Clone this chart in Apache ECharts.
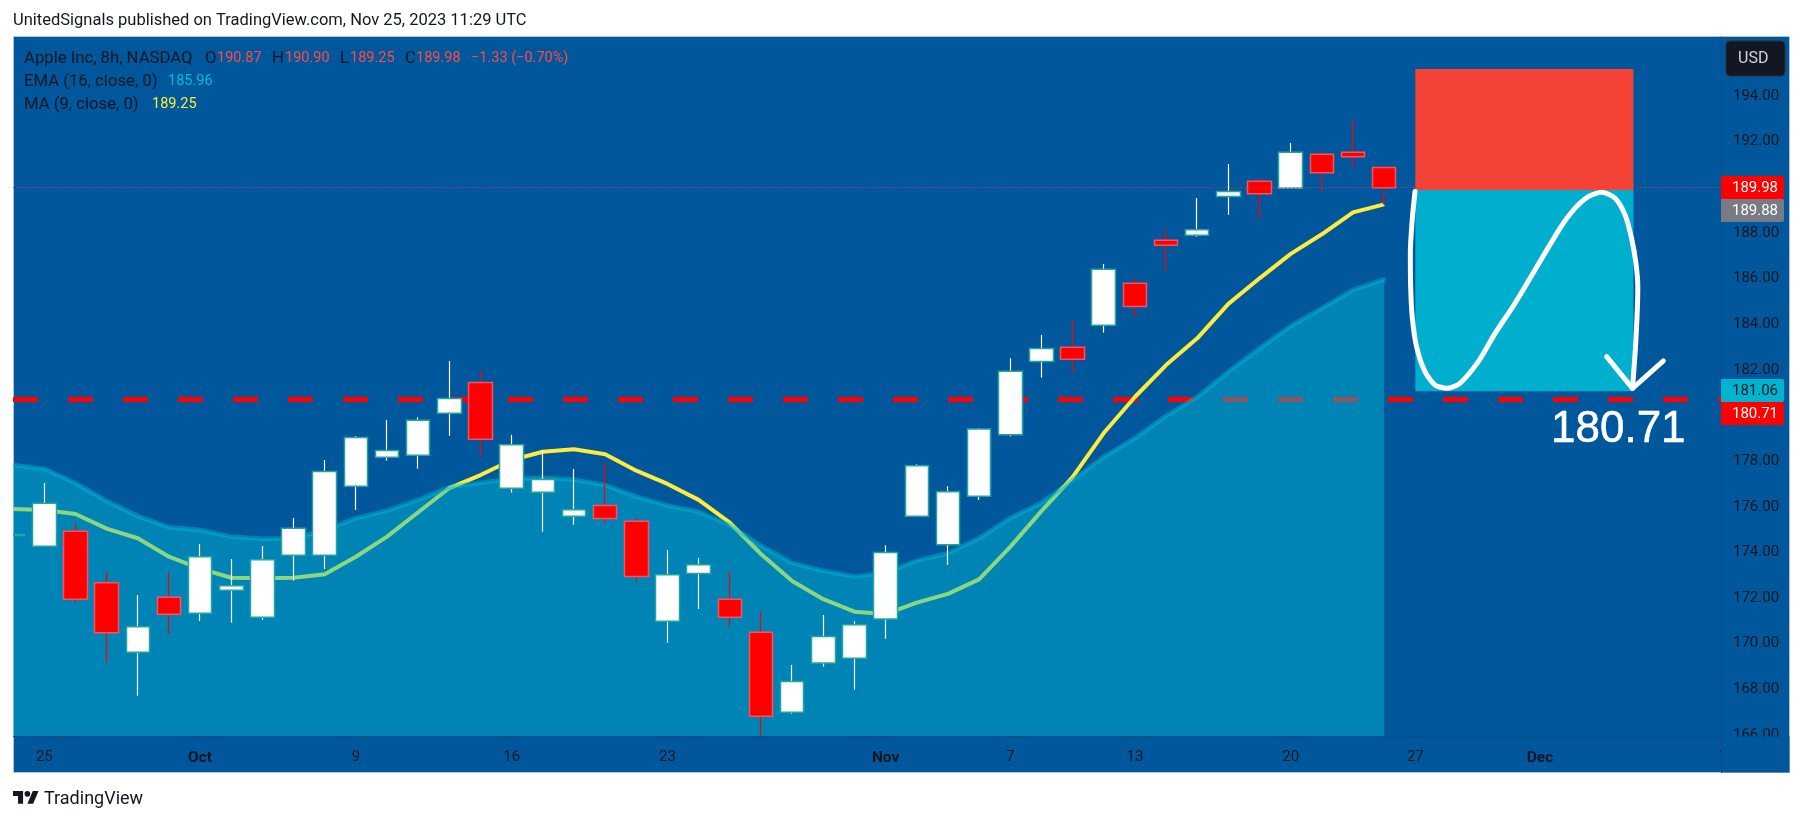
<!DOCTYPE html>
<html>
<head>
<meta charset="utf-8" />
<title>AAPL 8h</title>
<style>
  html, body { margin: 0; padding: 0; background: #fff; }
  #chart { width: 1804px; height: 821px; }
</style>
<script src="https://cdn.jsdelivr.net/npm/echarts@6/dist/echarts.min.js"></script>
</head>
<body>
<div id="chart"></div>
<script>
// bar number 0 is the cut-off bar at the left edge, one bar before "25"
const opens = [174.74, 174.27, 174.93, 172.67, 169.62, 172.03, 171.33, 172.34, 171.16, 173.87, 173.87, 176.90, 178.17, 178.26, 180.10, 181.45, 176.81, 176.63, 175.58, 176.06, 175.36, 170.98, 173.08, 171.95, 170.50, 166.99, 169.15, 169.36, 171.08, 175.58, 174.33, 176.46, 179.15, 182.36, 182.99, 183.95, 185.79, 187.68, 187.90, 189.60, 190.26, 189.96, 191.45, 191.53, 190.87];
const closes = [174.78, 176.15, 171.95, 170.48, 170.74, 171.29, 173.81, 172.54, 173.68, 175.06, 177.55, 179.04, 178.47, 179.79, 180.74, 178.96, 178.72, 177.19, 175.87, 175.48, 172.94, 173.02, 173.46, 171.16, 166.82, 168.34, 170.31, 170.83, 173.99, 177.80, 176.66, 179.41, 181.94, 182.94, 182.46, 186.41, 184.78, 187.46, 188.14, 189.82, 189.72, 191.53, 190.64, 191.34, 189.98];
const lows = [174.74, 174.27, 171.77, 169.17, 167.72, 170.44, 170.99, 170.92, 171.04, 172.76, 173.27, 175.86, 178.02, 177.67, 179.11, 178.24, 176.62, 174.91, 175.21, 175.26, 172.72, 170.04, 171.52, 170.74, 165.96, 166.93, 168.99, 167.98, 170.21, 175.58, 173.45, 176.30, 179.08, 181.66, 181.86, 183.63, 184.30, 186.33, 187.83, 188.79, 188.62, 189.96, 189.81, 190.86, 189.25];
const highs = [174.78, 177.04, 175.28, 173.14, 172.13, 173.14, 174.37, 173.71, 174.28, 175.51, 178.05, 179.10, 179.80, 179.92, 182.39, 181.99, 179.15, 178.49, 177.66, 177.90, 175.51, 174.11, 173.76, 173.14, 171.42, 169.07, 171.26, 170.98, 174.31, 177.86, 176.90, 179.45, 182.51, 183.53, 184.18, 186.64, 186.06, 188.16, 189.53, 191.02, 190.41, 191.94, 191.56, 192.95, 190.90];
const ma9 = [175.90, 175.86, 175.68, 175.04, 174.62, 173.81, 173.29, 172.89, 172.87, 172.89, 173.04, 173.81, 174.69, 175.76, 176.82, 177.39, 178.05, 178.41, 178.52, 178.30, 177.58, 177.00, 176.30, 175.30, 173.93, 172.75, 171.95, 171.40, 171.30, 171.80, 172.18, 172.82, 174.24, 175.81, 177.30, 179.23, 180.81, 182.21, 183.38, 184.89, 186.01, 187.08, 187.94, 188.90, 189.25];
const ema16 = [177.83, 177.66, 177.04, 176.25, 175.60, 175.10, 174.98, 174.69, 174.60, 174.62, 174.98, 175.50, 175.83, 176.30, 176.87, 177.05, 177.22, 177.27, 177.19, 176.95, 176.44, 176.05, 175.78, 175.20, 174.29, 173.54, 173.19, 172.94, 173.10, 173.64, 173.96, 174.62, 175.51, 176.17, 177.17, 178.18, 179.01, 179.98, 180.81, 181.92, 182.94, 183.92, 184.70, 185.50, 185.96];

// time axis labels and the bar each one sits on
const timeLabels = ["25", "Oct", "9", "16", "23", "Nov", "7", "13", "20", "27", "Dec"];
const timeLabelBars = [1, 6, 11, 16, 21, 28, 32, 36, 41, 45, 49];
const monthLabels = ["Oct", "Nov", "Dec"];
const priceTicks = [166, 168, 170, 172, 174, 176, 178, 180, 182, 184, 186, 188, 190, 192, 194];

// short position drawing
const lastPrice = 189.98;
const entryPrice = 189.88;
const stopPrice = 195.18;
const targetPrice = 181.06;
const drawnLevel = 180.71;
const positionBars = [45, 52];

// hand drawn stroke and arrow head, [bar, price]
const brushStroke = [[44.99, 189.81], [44.90, 188.57], [44.84, 187.11], [44.85, 185.64], [44.90, 184.33], [45.04, 183.01], [45.31, 181.92], [45.63, 181.34], [46.01, 181.19], [46.43, 181.41], [47.02, 182.36], [47.56, 183.60], [48.20, 184.92], [49.64, 188.20], [50.07, 189.00], [50.55, 189.59], [50.98, 189.78], [51.41, 189.52], [51.73, 188.79], [51.94, 187.76], [52.08, 186.67], [52.14, 185.64], [52.12, 184.48], [52.06, 182.87], [51.97, 181.19]];
const arrowHead = [[51.14, 182.58], [51.97, 181.19], [52.96, 182.39]];

const DARK = "#131722";
const BG = "#01579B";
const FONT = "Roboto";

const bars = opens.map((o, i) => [i, o, closes[i], lows[i], highs[i]]);
const bodies = opens.map((o, i) => [i, o, closes[i], Math.min(o, closes[i]), Math.max(o, closes[i])]);
const withBar = (values) => values.map((v, i) => [i, v]);

const text = (str, x, y, color, extra) => ({
  type: "text",
  x,
  y,
  z: 60,
  style: Object.assign({ text: str, fill: color, font: `16.7px ${FONT}`, textVerticalAlign: "middle" }, extra),
});
const num = (str, x, y, color) => text(str, x, y, color, { font: `14.5px ${FONT}` });

// price tag on the right scale
const tag = (str, top, fill, color) => ({
  type: "group",
  z: 100,
  children: [
    { type: "rect", z: 100, shape: { x: 1721, y: top, width: 63, height: 23, r: [0, 2, 2, 0] }, style: { fill } },
    { type: "text", z: 101, x: 1755, y: top + 12.5, style: { text: str, fill: color, font: `15px ${FONT}`, textAlign: "center", textVerticalAlign: "middle" } },
  ],
});

const logoScale = 0.72;
const logoPoint = ([x, y]) => [13 + x * logoScale, 788 + y * logoScale];

const graphic = [
  { type: "rect", z: -10, shape: { x: 13.5, y: 36.5, width: 1776, height: 736 }, style: { fill: BG, stroke: "#B4C4D8", lineWidth: 1 } },
  // the cut-off bar must not stick out of the pane
  { type: "rect", z: 80, shape: { x: 0, y: 37, width: 13, height: 736 }, style: { fill: "#fff" } },
  text("UnitedSignals published on TradingView.com, Nov 25, 2023 11:29 UTC", 13, 21, DARK, { font: `16.5px ${FONT}` }),

  text("Apple Inc, 8h, NASDAQ", 24, 58.5, DARK),
  text("O", 205, 58.5, DARK),
  num("190.87", 217, 58.5, "#FF4A4A"),
  text("H", 272, 58.5, DARK),
  num("190.90", 285, 58.5, "#FF4A4A"),
  text("L", 340, 58.5, DARK),
  num("189.25", 350, 58.5, "#FF4A4A"),
  text("C", 405, 58.5, DARK),
  num("189.98", 416, 58.5, "#FF4A4A"),
  num("\u22121.33 (\u22120.70%)", 471, 58.5, "#FF4A4A"),
  text("EMA (16, close, 0)", 24, 81.5, DARK),
  num("185.96", 168, 81.5, "#00BCD4"),
  text("MA (9, close, 0)", 24, 104.5, DARK),
  num("189.25", 152, 104.5, "#FFEB3B"),

  text("180.71", 1551, 430, "#fff", { font: `44px "Liberation Sans"`, stroke: "#fff", lineWidth: 0.6 }),

  // cut-off label under the corner of the price scale
  { type: "text", z: 50, x: 1727, y: 756, style: { text: "11", fill: DARK, font: `15px ${FONT}`, textAlign: "center", textVerticalAlign: "middle" } },
  { type: "rect", z: 90, shape: { x: 1721.5, y: 736.5, width: 68, height: 36 }, style: { fill: BG } },
  { type: "rect", z: 90, shape: { x: 1721, y: 736, width: 1, height: 37 }, style: { fill: "#0F4C86" } },

  { type: "rect", z: 95, shape: { x: 1726, y: 41, width: 59, height: 35, r: 4 }, style: { fill: DARK, stroke: "#2A2E39", lineWidth: 1 } },
  { type: "text", z: 96, x: 1738, y: 58.5, style: { text: "USD", fill: "#D1D4DC", font: `16px ${FONT}`, textVerticalAlign: "middle" } },

  tag(lastPrice.toFixed(2), 176, "#FF0000", "#fff"),
  tag(entryPrice.toFixed(2), 199, "#787B86", "#fff"),
  tag(targetPrice.toFixed(2), 379, "#00B4D0", DARK),
  tag(drawnLevel.toFixed(2), 402, "#FF0000", "#fff"),

  // logo
  { type: "polygon", z: 60, shape: { points: [[14, 22], [7, 22], [7, 11], [0, 11], [0, 4], [14, 4]].map(logoPoint) }, style: { fill: DARK } },
  { type: "polygon", z: 60, shape: { points: [[28, 22], [20, 22], [27.5, 4], [35.5, 4]].map(logoPoint) }, style: { fill: DARK } },
  { type: "circle", z: 60, shape: { cx: logoPoint([20, 8])[0], cy: logoPoint([20, 8])[1], r: 4 * logoScale }, style: { fill: DARK } },
  text("TradingView", 44, 799, DARK, { font: `18px ${FONT}` }),
];

const chart = echarts.init(document.getElementById("chart"));

chart.setOption({
  animation: false,
  backgroundColor: "#fff",
  graphic,
  grid: { left: 13, top: 37, width: 1708, height: 699, containLabel: false },
  xAxis: {
    type: "value",
    min: -0.005,
    max: 54.81,
    axisLine: { show: true, onZero: false, lineStyle: { color: "#0F4C86", width: 1 } },
    axisTick: { show: false },
    splitLine: { show: false },
    axisLabel: {
      customValues: timeLabelBars,
      margin: 14,
      color: DARK,
      fontFamily: FONT,
      fontSize: 15,
      formatter: (v) => {
        const label = timeLabels[timeLabelBars.indexOf(v)] || "";
        return monthLabels.includes(label) ? `{month|${label}}` : label;
      },
      rich: { month: { fontWeight: "bold", fontFamily: FONT, fontSize: 15.5, color: DARK } },
    },
  },
  yAxis: {
    type: "value",
    position: "right",
    min: 165.954,
    max: 196.585,
    axisLine: { show: true, onZero: false, lineStyle: { color: "#0F4C86", width: 1 } },
    axisTick: { show: false },
    splitLine: { show: false },
    axisLabel: {
      customValues: priceTicks,
      margin: 12,
      padding: [2, 0, 0, 0],
      color: DARK,
      fontFamily: FONT,
      fontSize: 15,
      formatter: (v) => v.toFixed(2),
    },
  },
  series: [
    {
      name: "levels",
      type: "line",
      z: 1,
      data: [],
      silent: true,
      markLine: {
        silent: true,
        z: 1,
        symbol: "none",
        label: { show: false },
        lineStyle: { color: "#FF0000", width: 5, type: [25, 30] },
        data: [{ yAxis: drawnLevel }],
      },
    },
    {
      name: "MA",
      type: "line",
      z: 2,
      data: withBar(ma9),
      showSymbol: false,
      lineStyle: { color: "#FFEB3B", width: 4 },
    },
    {
      name: "EMA",
      type: "line",
      z: 3,
      data: withBar(ema16),
      showSymbol: false,
      lineStyle: { color: "rgba(0,188,212,0.45)", width: 4.5, cap: "round" },
      areaStyle: { color: "rgba(0,188,212,0.45)", origin: "start", opacity: 1 },
    },
    {
      name: "wicks",
      type: "candlestick",
      z: 4,
      barWidth: 0.5,
      data: bars,
      itemStyle: { color: "#fff", color0: "#FF0000", borderColor: "#fff", borderColor0: "#FF0000", borderWidth: 1.2 },
    },
    {
      name: "bodies",
      type: "candlestick",
      z: 5,
      barWidth: 24,
      data: bodies,
      itemStyle: { color: "#fff", color0: "#FF0000", borderColor: "#26A69A", borderColor0: "#F7525F", borderWidth: 1.5 },
    },
    {
      name: "position",
      type: "line",
      z: 6,
      data: [],
      silent: true,
      markArea: {
        silent: true,
        z: 6,
        data: [
          [{ xAxis: positionBars[0], yAxis: stopPrice, itemStyle: { color: "#F44336" } }, { xAxis: positionBars[1], yAxis: entryPrice }],
          [{ xAxis: positionBars[0], yAxis: entryPrice, itemStyle: { color: "#00AFCD" } }, { xAxis: positionBars[1], yAxis: targetPrice }],
        ],
      },
    },
    {
      name: "last",
      type: "line",
      z: 7,
      data: [],
      silent: true,
      markLine: {
        silent: true,
        z: 7,
        symbol: "none",
        label: { show: false },
        lineStyle: { color: "#FF3030", width: 1, type: [1, 3] },
        data: [{ yAxis: lastPrice }],
      },
    },
    {
      name: "brush",
      type: "line",
      z: 8,
      data: brushStroke,
      smooth: 0.25,
      showSymbol: false,
      lineStyle: { color: "#fff", width: 5, cap: "round" },
    },
    {
      name: "arrow",
      type: "line",
      z: 8,
      data: arrowHead,
      showSymbol: false,
      lineStyle: { color: "#fff", width: 5, cap: "round", join: "round" },
    },
  ],
});
</script>
</body>
</html>
